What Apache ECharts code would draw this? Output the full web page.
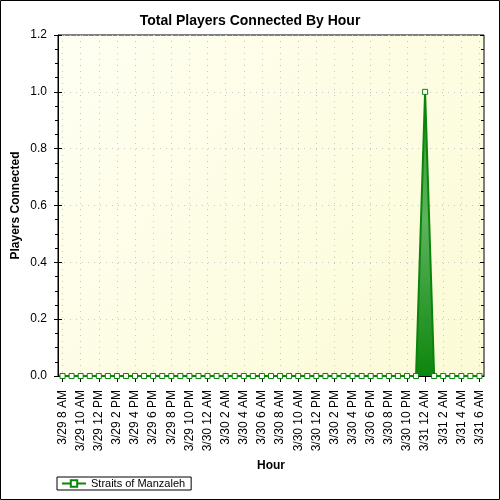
<!DOCTYPE html>
<html>
<head>
<meta charset="utf-8">
<script src="https://cdn.jsdelivr.net/npm/echarts@6/dist/echarts.min.js"></script>
<style>
html,body{margin:0;padding:0;background:#fff;}
#chart{width:500px;height:500px;}
</style>
</head>
<body>
<div id="chart"></div>
<script>
// ---- data ----
const hours = [
  '3/29 8 AM','3/29 9 AM','3/29 10 AM','3/29 11 AM','3/29 12 PM','3/29 1 PM','3/29 2 PM','3/29 3 PM',
  '3/29 4 PM','3/29 5 PM','3/29 6 PM','3/29 7 PM','3/29 8 PM','3/29 9 PM','3/29 10 PM','3/29 11 PM',
  '3/30 12 AM','3/30 1 AM','3/30 2 AM','3/30 3 AM','3/30 4 AM','3/30 5 AM','3/30 6 AM','3/30 7 AM',
  '3/30 8 AM','3/30 9 AM','3/30 10 AM','3/30 11 AM','3/30 12 PM','3/30 1 PM','3/30 2 PM','3/30 3 PM',
  '3/30 4 PM','3/30 5 PM','3/30 6 PM','3/30 7 PM','3/30 8 PM','3/30 9 PM','3/30 10 PM','3/30 11 PM',
  '3/31 12 AM','3/31 1 AM','3/31 2 AM','3/31 3 AM','3/31 4 AM','3/31 5 AM','3/31 6 AM'
];
const players = [
  0,0,0,0,0,0,0,0,
  0,0,0,0,0,0,0,0,
  0,0,0,0,0,0,0,0,
  0,0,0,0,0,0,0,0,
  0,0,0,0,0,0,0,0,
  1,0,0,0,0,0,0
];
const seriesName = 'Straits of Manzaleh';
const yTicks = { min: 0, max: 1.2, step: 0.2 };
const hourIndexRange = { min: 0, max: hours.length - 1, step: 2 };

// ---- layout ----
const W = 500, GL = 58, GR = 16, GT = 35, GB = 124;
const band = (W - GL - GR) / hours.length;
const half = band / 2;
const FONT = '"Liberation Sans", Arial, sans-serif';
const dotted = { color: '#c8c8c8', type: [1, 5], width: 1 };

const chart = echarts.init(document.getElementById('chart'), null, { renderer: 'canvas' });
chart.setOption({
  animation: false,
  backgroundColor: '#ffffff',
  textStyle: { fontFamily: FONT },
  title: {
    text: 'Total Players Connected By Hour',
    left: 'center', top: 9,
    textStyle: { fontFamily: FONT, fontSize: 14, fontWeight: 'bold', color: '#000' }
  },
  legend: {
    left: 57, top: 477,
    padding: [1, 6, 1, 4],
    borderColor: '#000', borderWidth: 1,
    itemWidth: 24, itemHeight: 8,
    textStyle: { fontFamily: FONT, fontSize: 11, color: '#000' },
    data: [seriesName]
  },
  graphic: [{
    type: 'rect', silent: true, z: 100,
    shape: { x: 0.5, y: 0.5, width: 499, height: 499 },
    style: { fill: 'none', stroke: '#000', lineWidth: 1 }
  }],
  grid: [
    {
      left: GL, right: GR, top: GT, bottom: GB, show: true,
      backgroundColor: new echarts.graphic.LinearGradient(0, 0, 1, 1, [
        { offset: 0, color: '#fffff2' }, { offset: 1, color: '#fbfbd6' }
      ]),
      borderColor: '#000', borderWidth: 1
    },
    { left: GL + half, right: GR + half, top: GT, bottom: GB, show: false }
  ],
  xAxis: [
    {
      type: 'category', gridIndex: 0, position: 'bottom', data: hours, boundaryGap: true,
      axisLine: { show: true, lineStyle: { color: '#000', width: 1 } },
      axisTick: { show: true, interval: 0, alignWithLabel: true, length: 3, lineStyle: { color: '#000' } },
      axisLabel: { interval: 1, rotate: 90, margin: 14, fontSize: 12, color: '#000', fontFamily: FONT },
      splitLine: { show: false },
      name: 'Hour', nameLocation: 'middle', nameGap: 84, nameMoveOverlap: false,
      nameTextStyle: { fontFamily: FONT, fontSize: 12, fontWeight: 'bold', color: '#000' }
    },
    {
      type: 'category', gridIndex: 0, position: 'bottom', data: hours, boundaryGap: true,
      axisLine: { show: false },
      axisTick: { show: true, interval: 1, alignWithLabel: true, length: 6, lineStyle: { color: '#000' } },
      axisLabel: { show: false }, splitLine: { show: false }
    },
    {
      type: 'category', gridIndex: 0, position: 'top', data: hours, boundaryGap: true,
      axisLine: { show: false },
      axisTick: { show: true, inside: true, interval: 0, alignWithLabel: true, length: 3, lineStyle: { color: '#000' } },
      axisLabel: { show: false }, splitLine: { show: false }
    },
    {
      type: 'value', gridIndex: 1, min: hourIndexRange.min, max: hourIndexRange.max, interval: hourIndexRange.step,
      axisLine: { show: false }, axisTick: { show: false }, axisLabel: { show: false },
      splitLine: { show: true, lineStyle: dotted }
    }
  ],
  yAxis: [
    {
      type: 'value', gridIndex: 0, position: 'left',
      min: yTicks.min, max: yTicks.max, interval: yTicks.step,
      axisLine: { show: true, lineStyle: { color: '#000', width: 1 } },
      axisTick: { show: true, length: 4, lineStyle: { color: '#000' } },
      minorTick: { show: true, splitNumber: 4, length: 3, lineStyle: { color: '#000' } },
      axisLabel: { margin: 11, fontSize: 12, color: '#000', fontFamily: FONT,
        formatter: v => v.toFixed(1) },
      splitLine: { show: true, lineStyle: dotted },
      name: 'Players Connected', nameLocation: 'middle', nameGap: 36, nameMoveOverlap: false,
      nameTextStyle: { fontFamily: FONT, fontSize: 12, fontWeight: 'bold', color: '#000' }
    },
    {
      type: 'value', gridIndex: 0, position: 'left',
      min: yTicks.min, max: yTicks.max, interval: yTicks.step,
      axisLine: { show: false },
      axisTick: { show: true, inside: true, length: 4, lineStyle: { color: '#000' } },
      axisLabel: { show: false }, splitLine: { show: false }
    },
    {
      type: 'value', gridIndex: 0, position: 'right',
      min: yTicks.min, max: yTicks.max, interval: yTicks.step,
      axisLine: { show: false },
      axisTick: { show: true, inside: true, length: 4, lineStyle: { color: '#000' } },
      minorTick: { show: true, splitNumber: 4, length: 3, lineStyle: { color: '#000' } },
      axisLabel: { show: false }, splitLine: { show: false }
    },
    { type: 'value', gridIndex: 1, show: false, min: yTicks.min, max: yTicks.max }
  ],
  series: [{
    name: seriesName,
    type: 'line',
    xAxisIndex: 0, yAxisIndex: 0,
    data: players,
    symbol: 'rect', symbolSize: 5, showAllSymbol: true,
    itemStyle: { color: '#ffffff', borderColor: '#0b840b', borderWidth: 1 },
    lineStyle: { color: '#0b840b', width: 2 },
    areaStyle: {
      color: new echarts.graphic.LinearGradient(0, 0, 0, 1, [
        { offset: 0, color: '#2a962a' },
        { offset: 0.45, color: '#5db35d' },
        { offset: 1, color: '#0d860d' }
      ]),
      opacity: 1
    },
    z: 3
  }]
});
</script>
</body>
</html>
